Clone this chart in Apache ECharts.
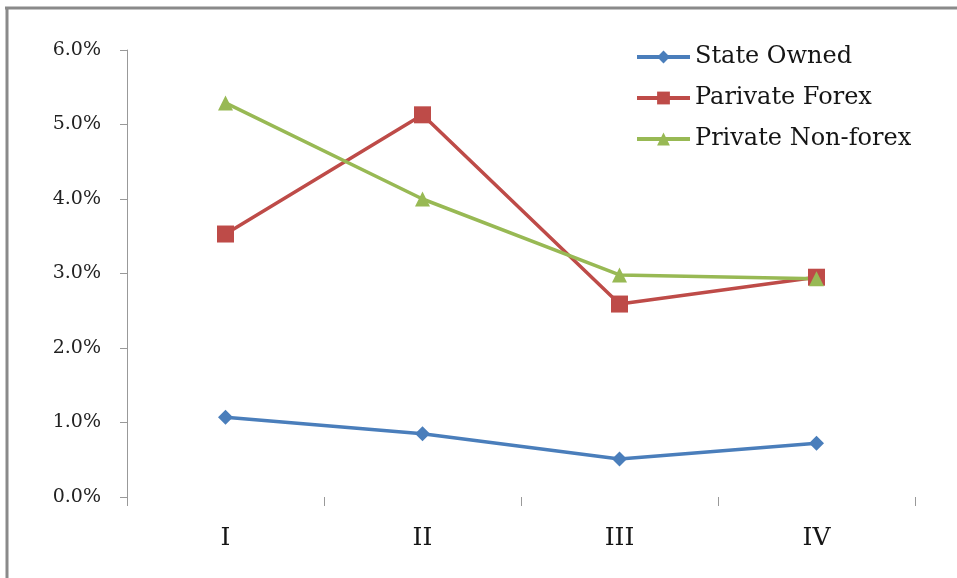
<!DOCTYPE html>
<html>
<head>
<meta charset="utf-8">
<style>
  html, body { margin: 0; padding: 0; background: #fff; }
  #chart { width: 957px; height: 578px; }
</style>
<script src="https://cdn.jsdelivr.net/npm/echarts@6/dist/echarts.min.js"></script>
</head>
<body>
<div id="chart"></div>
<script>
// Quarters
const categories = ['I', 'II', 'III', 'IV'];
// Ratios in percent
const stateOwned = [1.07, 0.85, 0.51, 0.72];
const privateForex = [3.53, 5.13, 2.59, 2.95];
const privateNonForex = [5.29, 4.00, 2.98, 2.93];
const seriesNames = ['State Owned', 'Parivate Forex', 'Private Non-forex'];

const serif = '"DejaVu Serif", "Liberation Serif", serif';
const chart = echarts.init(document.getElementById('chart'));

function lineSeries(name, data, color, symbol, size) {
  return {
    name: name,
    type: 'line',
    data: data,
    symbol: symbol,
    symbolSize: size,
    lineStyle: { color: color, width: 3.5 },
    itemStyle: { color: color },
    emphasis: { disabled: true },
    animation: false
  };
}

chart.setOption({
  backgroundColor: '#fff',
  animation: false,
  grid: { left: 127, right: 42, top: 50, bottom: 81 },
  legend: {
    orient: 'vertical',
    left: 630,
    top: 40,
    itemWidth: 53,
    itemHeight: 16,
    itemGap: 17,
    lineStyle: { width: 4 },
    textStyle: { fontFamily: serif, fontSize: 24, lineHeight: 24, color: '#151515' },
    data: seriesNames
  },
  xAxis: {
    type: 'category',
    data: categories,
    boundaryGap: true,
    axisLine: { show: false },
    axisTick: { show: true, length: 9, lineStyle: { color: '#999', width: 1 } },
    axisLabel: { fontFamily: serif, fontSize: 25, color: '#151515', margin: 29 }
  },
  yAxis: {
    type: 'value',
    min: 0,
    max: 6,
    interval: 1,
    axisLine: { show: true, lineStyle: { color: '#999', width: 1 } },
    axisTick: { show: true, length: 7, lineStyle: { color: '#999' } },
    splitLine: { show: false },
    axisLabel: {
      fontFamily: serif, fontSize: 19, color: '#222', margin: 26,
      formatter: v => v.toFixed(1) + '%'
    }
  },
  graphic: [
    { type: 'line', shape: { x1: 5, y1: 8, x2: 957, y2: 8 }, style: { stroke: '#8a8a8a', lineWidth: 3 }, silent: true },
    { type: 'line', shape: { x1: 7, y1: 7, x2: 7, y2: 578 }, style: { stroke: '#8a8a8a', lineWidth: 3 }, silent: true }
  ],
  series: [
    lineSeries(seriesNames[0], stateOwned, '#4a7ebb', 'diamond', 15),
    lineSeries(seriesNames[1], privateForex, '#be4b48', 'rect', 17),
    lineSeries(seriesNames[2], privateNonForex, '#98b954', 'triangle', 15)
  ]
});
</script>
</body>
</html>
